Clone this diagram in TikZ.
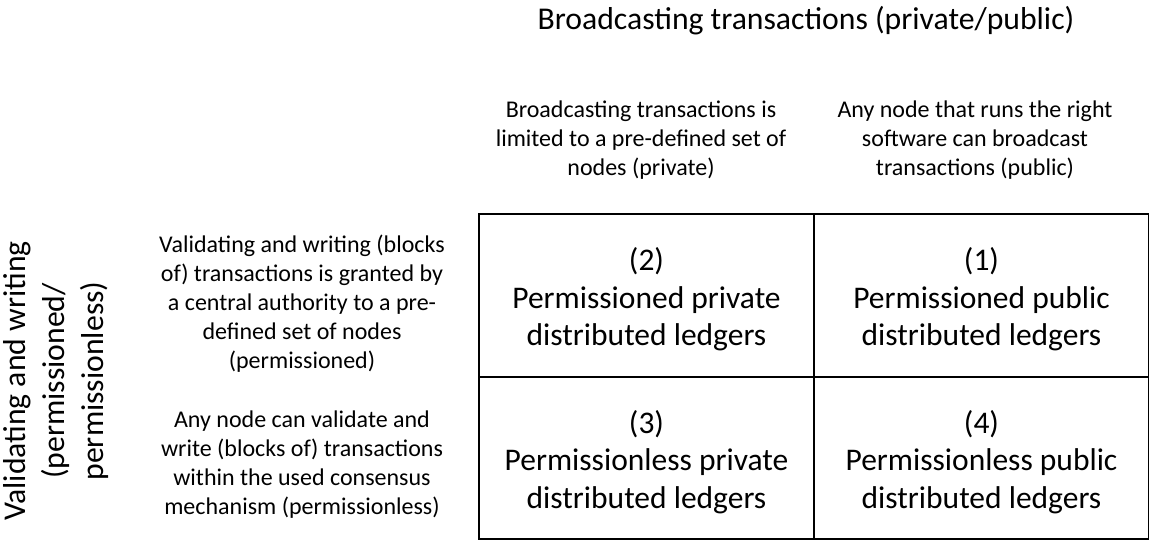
\documentclass[tikz,border=0pt]{standalone}
\usepackage{fontspec}
\setmainfont{Carlito}

\tikzset{
  cell/.style={draw,line width=2pt,anchor=north west,inner sep=0pt,
    minimum width=335pt,minimum height=163pt},
  celltext/.style={align=center,inner sep=0pt,font=\fontsize{31.5}{37.5}\selectfont},
  head/.style={align=center,inner sep=0pt,font=\fontsize{24}{29}\selectfont},
  bighead/.style={align=center,inner sep=0pt,font=\fontsize{31.7}{39}\selectfont},
}

\begin{document}
\begin{tikzpicture}[x=1pt,y=-1pt]
\useasboundingbox (0,0) rectangle (1149,540);
% the four quadrants
\node[cell] (c2) at (478,213) {};
\node[cell] (c1) at (813,213) {};
\node[cell,minimum height=162pt] (c3) at (478,376) {};
\node[cell,minimum height=162pt] (c4) at (813,376) {};
\node[celltext] (t2) at ([yshift=-4pt]c2.center) {(2)\\Permissioned private\\distributed ledgers};
\node[celltext] (t1) at ([yshift=-4pt]c1.center) {(1)\\Permissioned public\\distributed ledgers};
\node[celltext] (t3) at ([yshift=-4pt]c3.center) {(3)\\Permissionless private\\distributed ledgers};
\node[celltext] (t4) at ([yshift=-4pt]c4.center) {(4)\\Permissionless public\\distributed ledgers};
% axis titles
\node[bighead] (top) at (806,21) {Broadcasting transactions (private/public)};
\node[bighead,rotate=90] (side) at (56,381) {Validating and writing\\(permissioned/\\permissionless)};
% column heads
\node[head] (hpriv) at (641,140) {Broadcasting transactions is\\limited to a pre-defined set of\\nodes (private)};
\node[head] (hpub) at (975,140) {Any node that runs the right\\software can broadcast\\transactions (public)};
% row heads
\node[head] (hperm) at (302,304) {Validating and writing (blocks\\of) transactions is granted by\\a central authority to a pre-\\defined set of nodes\\(permissioned)};
\node[head] (hless) at (302,465) {Any node can validate and\\write (blocks of) transactions\\within the used consensus\\mechanism (permissionless)};
\end{tikzpicture}
\end{document}
